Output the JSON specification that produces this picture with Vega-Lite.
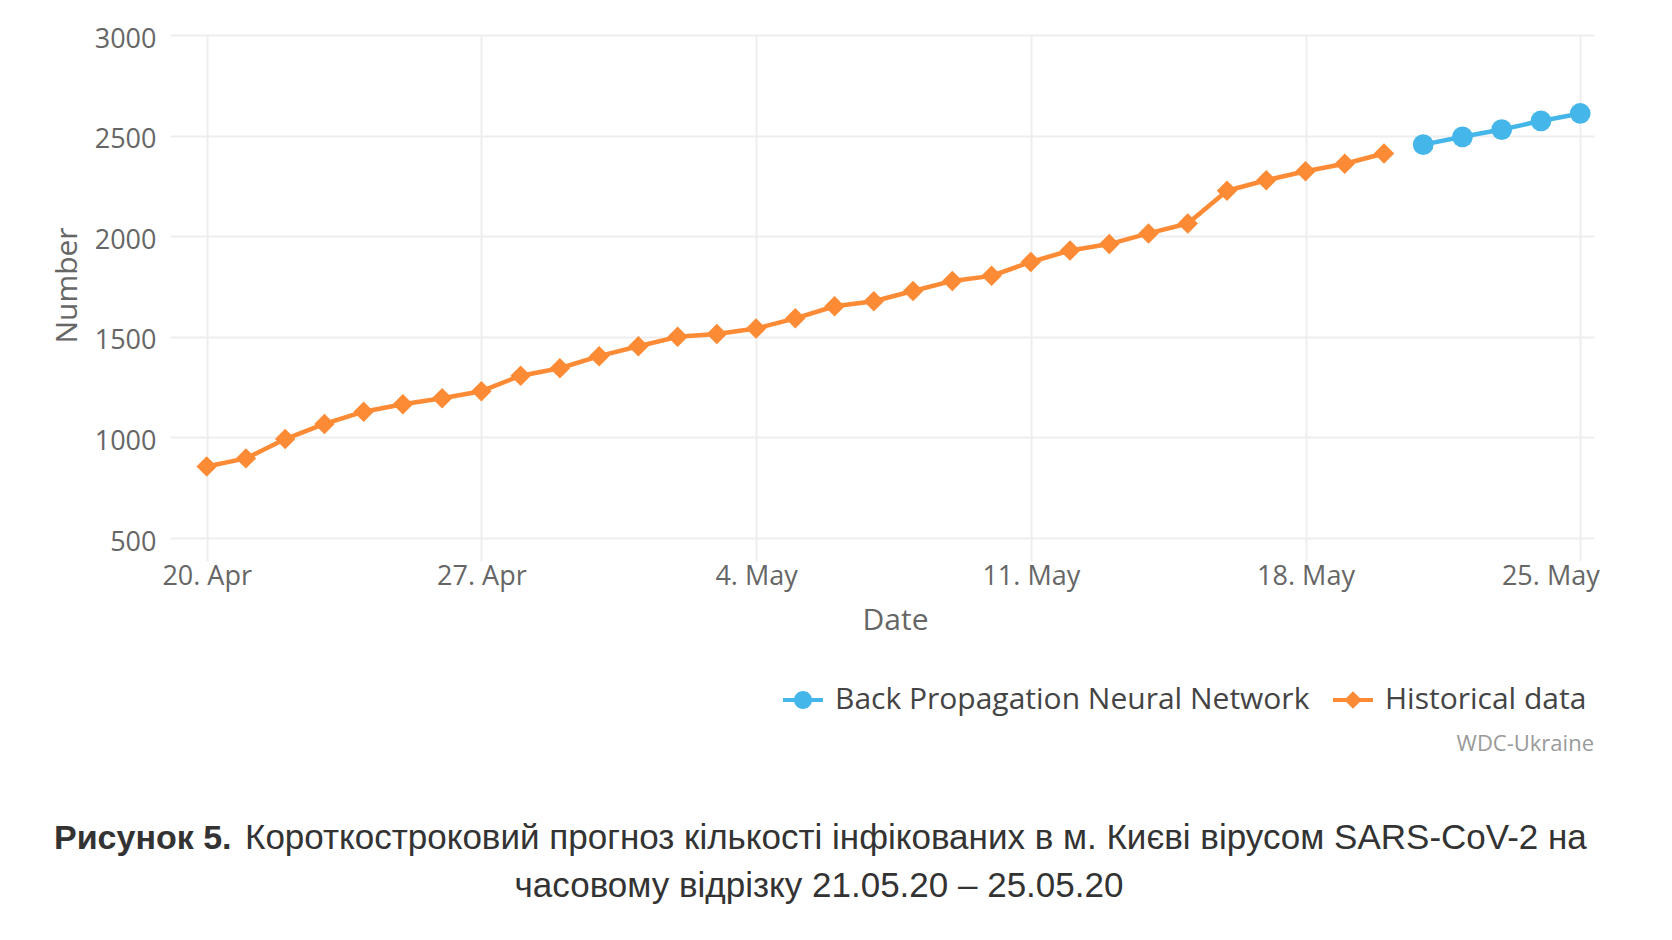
{
  "$schema": "https://vega.github.io/schema/vega-lite/v6.json",
  "autosize": {"type": "none"},
  "width": 1424,
  "height": 526,
  "padding": {"left": 170, "top": 35, "right": 78, "bottom": 379},
  "background": "white",
  "datasets": {
    "series": [
      {"date": "2020-04-20", "value": 856, "series": "Historical data"},
      {"date": "2020-04-21", "value": 896, "series": "Historical data"},
      {"date": "2020-04-22", "value": 992, "series": "Historical data"},
      {"date": "2020-04-23", "value": 1067, "series": "Historical data"},
      {"date": "2020-04-24", "value": 1128, "series": "Historical data"},
      {"date": "2020-04-25", "value": 1165, "series": "Historical data"},
      {"date": "2020-04-26", "value": 1195, "series": "Historical data"},
      {"date": "2020-04-27", "value": 1230, "series": "Historical data"},
      {"date": "2020-04-28", "value": 1307, "series": "Historical data"},
      {"date": "2020-04-29", "value": 1344, "series": "Historical data"},
      {"date": "2020-04-30", "value": 1404, "series": "Historical data"},
      {"date": "2020-05-01", "value": 1453, "series": "Historical data"},
      {"date": "2020-05-02", "value": 1500, "series": "Historical data"},
      {"date": "2020-05-03", "value": 1514, "series": "Historical data"},
      {"date": "2020-05-04", "value": 1541, "series": "Historical data"},
      {"date": "2020-05-05", "value": 1592, "series": "Historical data"},
      {"date": "2020-05-06", "value": 1652, "series": "Historical data"},
      {"date": "2020-05-07", "value": 1677, "series": "Historical data"},
      {"date": "2020-05-08", "value": 1728, "series": "Historical data"},
      {"date": "2020-05-09", "value": 1778, "series": "Historical data"},
      {"date": "2020-05-10", "value": 1803, "series": "Historical data"},
      {"date": "2020-05-11", "value": 1872, "series": "Historical data"},
      {"date": "2020-05-12", "value": 1929, "series": "Historical data"},
      {"date": "2020-05-13", "value": 1961, "series": "Historical data"},
      {"date": "2020-05-14", "value": 2014, "series": "Historical data"},
      {"date": "2020-05-15", "value": 2063, "series": "Historical data"},
      {"date": "2020-05-16", "value": 2226, "series": "Historical data"},
      {"date": "2020-05-17", "value": 2278, "series": "Historical data"},
      {"date": "2020-05-18", "value": 2323, "series": "Historical data"},
      {"date": "2020-05-19", "value": 2360, "series": "Historical data"},
      {"date": "2020-05-20", "value": 2411, "series": "Historical data"},
      {"date": "2020-05-21", "value": 2455, "series": "Back Propagation Neural Network"},
      {"date": "2020-05-22", "value": 2494, "series": "Back Propagation Neural Network"},
      {"date": "2020-05-23", "value": 2530, "series": "Back Propagation Neural Network"},
      {"date": "2020-05-24", "value": 2573, "series": "Back Propagation Neural Network"},
      {"date": "2020-05-25", "value": 2610, "series": "Back Propagation Neural Network"}
    ],
    "caption": [
      {"part": "bold", "text": "Рисунок 5."},
      {"part": "rest", "text": "Короткостроковий прогноз кількості інфікованих в м. Києві вірусом SARS-CoV-2 на"},
      {"part": "line2", "text": "часовому відрізку 21.05.20 – 25.05.20"}
    ]
  },
  "layer": [
    {
      "data": {"name": "series"},
      "encoding": {
        "x": {
          "field": "date",
          "type": "temporal",
          "title": "Date",
          "scale": {
            "type": "utc",
            "domain": [
              {"year": 2020, "month": "apr", "date": 19, "hours": 1, "minutes": 34, "utc": true},
              {"year": 2020, "month": "may", "date": 25, "hours": 8, "minutes": 26, "utc": true}
            ]
          },
          "axis": {
            "values": [
              {"year": 2020, "month": "apr", "date": 20, "utc": true},
              {"year": 2020, "month": "apr", "date": 27, "utc": true},
              {"year": 2020, "month": "may", "date": 4, "utc": true},
              {"year": 2020, "month": "may", "date": 11, "utc": true},
              {"year": 2020, "month": "may", "date": 18, "utc": true},
              {"year": 2020, "month": "may", "date": 25, "utc": true}
            ],
            "format": "%-d. %b",
            "labelFlush": false,
            "labelPadding": 2,
            "titlePadding": 16,
            "titleX": 725,
            "labelAlign": {"condition": {"test": "datum.value >= 1590300000000", "value": "right"}, "value": "center"},
            "labelOffset": {"condition": {"test": "datum.value >= 1590300000000", "value": 19}, "value": 0}
          }
        },
        "y": {
          "field": "value",
          "type": "quantitative",
          "title": "Number",
          "scale": {"domain": [386, 3000], "zero": false, "nice": false},
          "axis": {
            "values": [500, 1000, 1500, 2000, 2500, 3000],
            "format": "d",
            "labelPadding": 14,
            "labelOffset": 4,
            "titlePadding": 12,
            "titleY": 250
          }
        },
        "color": {
          "field": "series",
          "type": "nominal",
          "scale": {
            "domain": ["Back Propagation Neural Network", "Historical data"],
            "range": ["#45b6e9", "#fd8b35"]
          },
          "legend": {
            "orient": "none",
            "legendX": 613,
            "legendY": 645,
            "direction": "horizontal",
            "title": "WDC-Ukraine",
            "titleOrient": "bottom",
            "titleAnchor": "end",
            "titleFont": "Open Sans",
            "titleFontSize": 22,
            "titleFontWeight": "normal",
            "titleColor": "#9a9a9a",
            "titlePadding": 19,
            "labelFont": "Open Sans",
            "labelFontSize": 30,
            "labelColor": "#444444",
            "labelOffset": 12,
            "labelLimit": 0,
            "columnPadding": 23,
            "symbolSize": 1600,
            "padding": 0,
            "encode": {
              "title": {"update": {"dx": {"value": 8}}},
              "symbols": {
                "update": {
                  "shape": {"signal": "datum.value === 'Historical data' ? 'M-1,-0.1L-0.35,-0.1L-0.35,0.1L-1,0.1Z M0.35,-0.1L1,-0.1L1,0.1L0.35,0.1Z M-0.44,0L0,-0.44L0.44,0L0,0.44Z' : 'M-1,-0.1L-0.4,-0.1L-0.4,0.1L-1,0.1Z M0.4,-0.1L1,-0.1L1,0.1L0.4,0.1Z M-0.45,0A0.45,0.45 0 1,1 0.45,0A0.45,0.45 0 1,1 -0.45,0Z'"},
                  "size": {"value": 1600},
                  "fill": {"scale": "color", "field": "value"},
                  "stroke": {"value": "transparent"},
                  "strokeWidth": {"value": 0},
                  "opacity": {"value": 1},
                  "fillOpacity": {"value": 1}
                }
              }
            }
          }
        }
      },
      "layer": [
        {"mark": {"type": "line", "strokeWidth": 4.5, "strokeJoin": "round"}},
        {
          "transform": [{"filter": "datum.series === 'Historical data'"}],
          "mark": {"type": "point", "shape": "diamond", "filled": true, "opacity": 1, "size": 420}
        },
        {
          "transform": [{"filter": "datum.series === 'Back Propagation Neural Network'"}],
          "mark": {"type": "point", "shape": "circle", "filled": true, "opacity": 1, "size": 430}
        }
      ]
    },
    {
      "data": {"name": "caption"},
      "transform": [{"filter": "datum.part === 'bold'"}],
      "mark": {"type": "text", "font": "Liberation Sans", "fontSize": 34, "fontWeight": "bold", "color": "#333333", "align": "left", "baseline": "alphabetic", "dx": -828, "dy": 551},
      "encoding": {"text": {"field": "text"}}
    },
    {
      "data": {"name": "caption"},
      "transform": [{"filter": "datum.part === 'rest'"}],
      "mark": {"type": "text", "font": "Liberation Sans", "fontSize": 35, "color": "#333333", "align": "left", "baseline": "alphabetic", "dx": -637, "dy": 551},
      "encoding": {"text": {"field": "text"}}
    },
    {
      "data": {"name": "caption"},
      "transform": [{"filter": "datum.part === 'line2'"}],
      "mark": {"type": "text", "font": "Liberation Sans", "fontSize": 35, "color": "#333333", "align": "center", "baseline": "alphabetic", "dx": -63, "dy": 599},
      "encoding": {"text": {"field": "text"}}
    }
  ],
  "config": {
    "view": {"stroke": null},
    "axis": {
      "domain": false,
      "ticks": false,
      "grid": true,
      "gridColor": "#eeeeee",
      "gridWidth": 2,
      "labelFont": "Open Sans",
      "labelFontSize": 27,
      "labelColor": "#666666",
      "titleFont": "Open Sans",
      "titleFontSize": 30,
      "titleFontWeight": "normal",
      "titleColor": "#666666"
    }
  }
}
